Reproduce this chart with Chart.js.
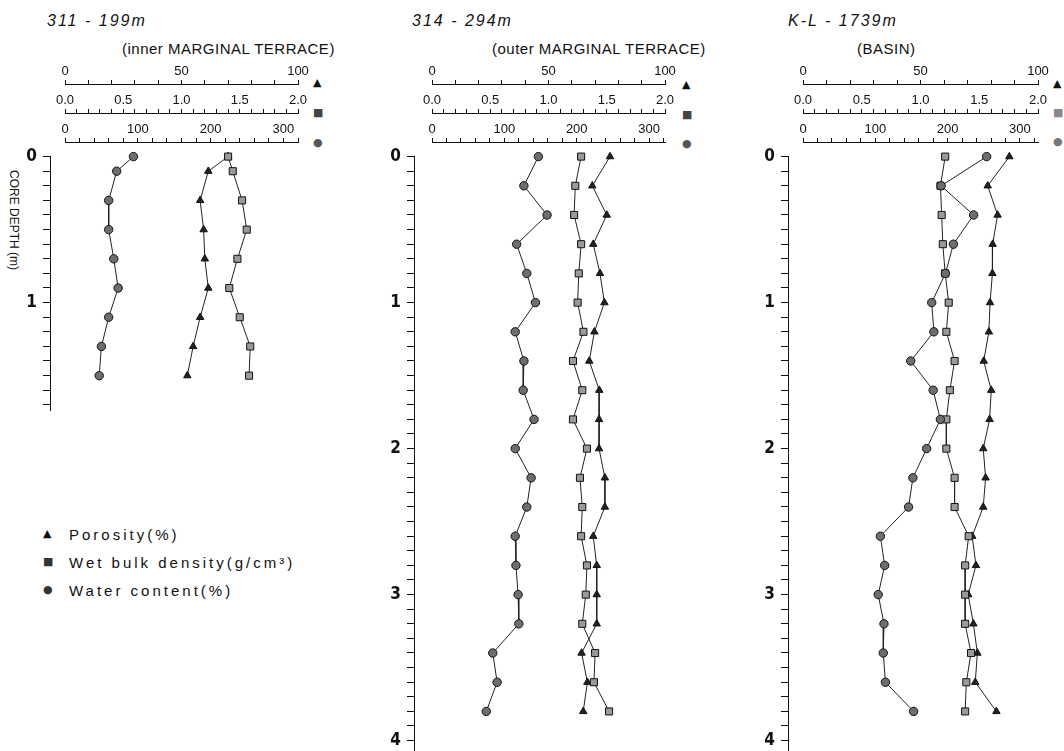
<!DOCTYPE html>
<html>
<head>
<meta charset="utf-8">
<script src="https://cdn.jsdelivr.net/npm/chart.js@4.4.1/dist/chart.umd.min.js"></script>
<style>
  body { margin: 0; width: 1064px; height: 751px; background: #fff; position: relative; overflow: hidden;
         font-family: "Liberation Sans", Arial, sans-serif; color: #111; }
  canvas { position: absolute; top: 0; }
  .t { position: absolute; white-space: nowrap; line-height: 1; }
  .site { font-style: italic; font-size: 16px; letter-spacing: 2px; }
  .zone { font-size: 15px; letter-spacing: 0.5px; }
  .sym { font-family: "DejaVu Sans", sans-serif; font-size: 11px; }
  .leg { font-size: 15px; letter-spacing: 3px; }
  .ytitle { font-size: 12px; transform: rotate(90deg); transform-origin: center; }
</style>
</head>
<body>
<div class="t site" style="left:47px;top:13px">311 - 199m</div>
<div class="t zone" style="left:122px;top:41px">(inner MARGINAL TERRACE)</div>
<div class="t site" style="left:412px;top:13px">314 - 294m</div>
<div class="t zone" style="left:492px;top:41px">(outer MARGINAL TERRACE)</div>
<div class="t site" style="left:788px;top:13px">K-L - 1739m</div>
<div class="t zone" style="left:857px;top:41px">(BASIN)</div>

<div class="t sym" style="left:313px;top:77px">▲</div>
<div class="t sym" style="left:313px;top:107px;color:#444">■</div>
<div class="t sym" style="left:313px;top:137px;color:#555">●</div>
<div class="t sym" style="left:682px;top:79px">▲</div>
<div class="t sym" style="left:682px;top:109px;color:#444">■</div>
<div class="t sym" style="left:682px;top:138px;color:#555">●</div>
<div class="t sym" style="left:1053px;top:78px">▲</div>
<div class="t sym" style="left:1053px;top:107px;color:#888">■</div>
<div class="t sym" style="left:1053px;top:136px;color:#777">●</div>

<div class="t ytitle" style="left:-36px;top:214px">CORE DEPTH (m)</div>

<div class="t sym" style="left:43px;top:528px">▲</div>
<div class="t leg" style="left:69px;top:527px">Porosity(%)</div>
<div class="t sym" style="left:43px;top:556px;color:#333">■</div>
<div class="t leg" style="left:69px;top:555px">Wet bulk density(g/cm³)</div>
<div class="t sym" style="left:43px;top:584px;color:#333">●</div>
<div class="t leg" style="left:69px;top:583px">Water content(%)</div>

<canvas id="depth1" width="60" height="427" style="left:0px"></canvas>
<canvas id="plot1" width="273" height="427" style="left:45px"></canvas>
<canvas id="depth2" width="60" height="767" style="left:364px"></canvas>
<canvas id="plot2" width="273" height="767" style="left:412px"></canvas>
<canvas id="depth3" width="60" height="767" style="left:738px"></canvas>
<canvas id="plot3" width="275" height="767" style="left:783px"></canvas>

<script>
// 311 - 199m (inner marginal terrace)
const depthP1 = [0, 0.1, 0.3, 0.5, 0.7, 0.9, 1.1, 1.3, 1.5];
const porosityP1 = [70, 61.5, 58, 59.5, 60, 61.5, 58, 55, 52.5];
const densityP1 = [1.40, 1.44, 1.52, 1.56, 1.48, 1.41, 1.50, 1.59, 1.58];
const waterP1 = [94, 71, 60, 60, 67, 73, 60, 50, 47];

// 314 - 294m (outer marginal terrace)
const depthP2 = [0, 0.2, 0.4, 0.6, 0.8, 1.0, 1.2, 1.4, 1.6, 1.8, 2.0, 2.2, 2.4, 2.6, 2.8, 3.0, 3.2, 3.4, 3.6, 3.8];
const porosityP2 = [76.4, 68.8, 75, 69.2, 72.1, 74, 69.7, 67.5, 71.8, 71.7, 71.7, 74.2, 74.2, 69.2, 70.7, 70.7, 70.7, 64.2, 66.7, 64.9];
const densityP2 = [1.28, 1.23, 1.22, 1.28, 1.26, 1.25, 1.30, 1.21, 1.29, 1.21, 1.33, 1.27, 1.29, 1.28, 1.33, 1.32, 1.29, 1.40, 1.39, 1.52];
const waterP2 = [147, 127, 159, 117, 131, 143, 115, 127, 126, 141, 115, 137, 131, 115, 116, 119, 120, 84, 90, 75];

// K-L - 1739m (basin)
const depthP3 = [0, 0.2, 0.4, 0.6, 0.8, 1.0, 1.2, 1.4, 1.6, 1.8, 2.0, 2.2, 2.4, 2.6, 2.8, 3.0, 3.2, 3.4, 3.6, 3.8];
const porosityP3 = [87.8, 78.6, 82.8, 80.7, 80.6, 79.6, 79.1, 76.9, 80.1, 79.4, 76.7, 77.7, 76.7, 72, 73.6, 70.3, 72.5, 74.2, 73.3, 82.3];
const densityP3 = [1.21, 1.17, 1.18, 1.19, 1.21, 1.24, 1.22, 1.29, 1.25, 1.22, 1.22, 1.29, 1.29, 1.41, 1.38, 1.38, 1.38, 1.43, 1.39, 1.38];
const waterP3 = [254, 191, 236, 208, 197, 178, 181, 149, 180, 190, 171, 152, 146, 107, 113, 104, 112, 111, 114, 153];

// tick labels
const porosityTicks = [0, 50, 100];
const densityTicks = [0, 0.5, 1.0, 1.5, 2.0];
const waterTicks = [0, 100, 200, 300];
const depthTicks = [0, 1, 2, 3, 4];

const INK = '#111';
const FONT = "'Liberation Sans', Arial, sans-serif";

function isLabel(list, v) {
  return list.some(l => Math.abs(l - v) < 1e-6);
}

function topAxis(weight, max, step, labels, digits) {
  return {
    type: 'linear', position: 'top', weight, min: 0, max,
    border: { color: INK, width: 1 },
    grid: { drawOnChartArea: false, tickLength: 4, color: INK, tickColor: INK },
    ticks: {
      stepSize: step, autoSkip: false, maxRotation: 0, includeBounds: false, padding: 1,
      color: INK, font: { family: FONT, size: 13 },
      callback: (v) => isLabel(labels, v) ? Number(v).toFixed(digits) : ''
    },
    afterFit: (s) => { s.height = 29; }
  };
}

function series(depths, vals, axis, style, radius, fill) {
  return {
    data: vals.map((v, i) => ({ x: v, y: depths[i] })),
    xAxisID: axis, yAxisID: 'y',
    showLine: true, borderColor: '#222', borderWidth: 1,
    pointStyle: style, pointRadius: radius, pointBackgroundColor: fill,
    pointBorderColor: '#111', pointBorderWidth: 1
  };
}

function makePlot(id, depths, por, den, wat, waterMax, depthMax) {
  const ctx = document.getElementById(id);
  return new Chart(ctx, {
    type: 'scatter',
    data: {
      datasets: [
        series(depths, wat, 'wat', 'circle', 4.2, '#6e6e6e'),
        series(depths, den, 'den', 'rect', 5, '#9a9a9a'),
        series(depths, por, 'por', 'triangle', 4.3, '#222')
      ]
    },
    options: {
      responsive: false, animation: false, events: [],
      layout: { padding: { top: 55, left: 20, right: 20, bottom: 16 } },
      plugins: { legend: { display: false }, tooltip: { enabled: false } },
      scales: {
        por: topAxis(3, 100, 10, porosityTicks, 0),
        den: topAxis(2, 2, 0.1, densityTicks, 1),
        wat: topAxis(1, waterMax, 20, waterTicks, 0),
        y: { type: 'linear', reverse: true, min: -0.1, max: depthMax, display: false }
      }
    }
  });
}

function makeDepth(id, top0, depthMax) {
  const ctx = document.getElementById(id);
  return new Chart(ctx, {
    type: 'scatter',
    data: { datasets: [] },
    options: {
      responsive: false, animation: false, events: [],
      layout: { padding: { top: top0, left: 0, right: 0, bottom: 16 } },
      plugins: { legend: { display: false }, tooltip: { enabled: false } },
      scales: {
        x: { display: false, min: 0, max: 1 },
        y: {
          type: 'linear', position: 'left', reverse: true, min: 0, max: depthMax,
          border: { color: INK, width: 1 },
          grid: { drawOnChartArea: false, tickLength: 7, color: INK, tickColor: INK },
          ticks: {
            stepSize: 0.1, autoSkip: false, includeBounds: false, padding: 6, color: INK,
            font: { family: "'Liberation Sans Narrow', 'DejaVu Sans Condensed', Arial, sans-serif", size: 17, weight: 'bold' },
            callback: (v) => isLabel(depthTicks, v) ? Math.round(v) : ''
          },
          afterFit: (s) => { s.width = 50; }
        }
      }
    }
  });
}

window.addEventListener('load', () => {
  const panels = [
    ['plot1', 'depth1', depthP1, porosityP1, densityP1, waterP1, 320, 1.742],
    ['plot2', 'depth2', depthP2, porosityP2, densityP2, waterP2, 322, 4.071],
    ['plot3', 'depth3', depthP3, porosityP3, densityP3, waterP3, 325, 4.071]
  ];
  panels.forEach(([plotId, depthId, d, p, b, w, wMax, dMax]) => {
    const chart = makePlot(plotId, d, p, b, w, wMax, dMax);
    const top0 = chart.scales.y.getPixelForValue(0);
    makeDepth(depthId, top0, dMax);
  });
});
</script>
</body>
</html>
